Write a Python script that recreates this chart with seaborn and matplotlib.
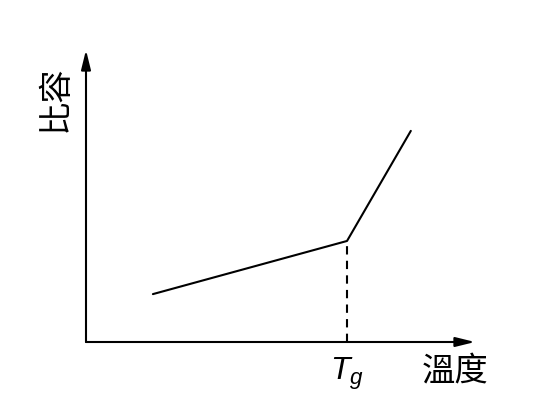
import matplotlib
matplotlib.use('Agg')
import pandas as pd
from matplotlib import pyplot as plt
import seaborn as sns

# Curve (arbitrary units, origin at axes corner)
temperature = [17.2, 67.1, 83.5]
specific_volume = [16.4, 34.6, 72.3]
tg_x = 67.1
tg_y = 34.6

x_label = '溫度'
y_label = '比容'
tg_label = '$T_g$'

sns.set_theme(style='white')
plt.rcParams['font.family'] = ['Noto Sans CJK TC', 'DejaVu Sans']
plt.rcParams['mathtext.fontset'] = 'custom'
plt.rcParams['mathtext.it'] = 'Liberation Sans:italic'
plt.rcParams['mathtext.rm'] = 'Liberation Sans'

df = pd.DataFrame({'T': temperature, 'V': specific_volume})

fig = plt.figure(figsize=(5.48, 4.13), dpi=100)
ax = fig.add_axes([86 / 548, 71 / 413, 389 / 548, 292 / 413])
ax.set_xlim(0, 100)
ax.set_ylim(0, 100)

sns.lineplot(data=df, x='T', y='V', ax=ax, color='black', linewidth=1.5, sort=False)
ax.plot([tg_x, tg_x], [0, tg_y], color='black', linewidth=1.5, linestyle=(0, (4, 3)))

for s in ax.spines.values():
    s.set_visible(False)
ax.set_xticks([])
ax.set_yticks([])
ax.set_xlabel('')
ax.set_ylabel('')

arrow = dict(arrowstyle='-|>,head_length=0.65,head_width=0.16', color='black', lw=1.5,
             mutation_scale=18, shrinkA=0, shrinkB=0)
ax.annotate('', xy=(1, 0), xytext=(0, 0), xycoords='axes fraction', arrowprops=arrow)
ax.annotate('', xy=(0, 1), xytext=(0, 0), xycoords='axes fraction', arrowprops=arrow)

ax.text(tg_x, -11, tg_label, ha='center', va='center', fontsize=23, color='black')
ax.text(95, -10, x_label, ha='center', va='center', fontsize=24, color='black',
        fontweight='light')
ax.text(-8, 83.5, y_label, ha='center', va='center', fontsize=24, rotation=90,
        color='black', fontweight='light')

fig.savefig('out.png', dpi=100)
